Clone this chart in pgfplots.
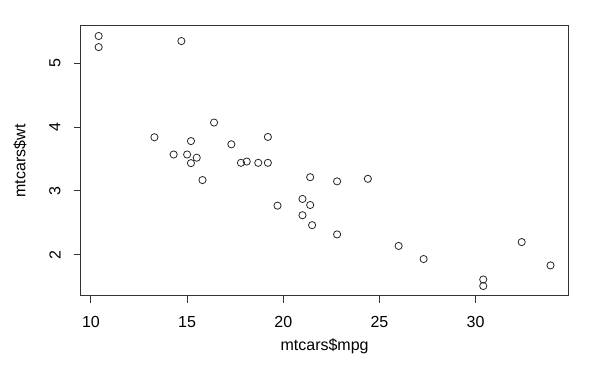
\documentclass[border=0pt]{standalone}
\usepackage{pgfplots}
\pgfplotsset{compat=1.18}
\usepackage{fontspec}
\setmainfont{Liberation Sans}
\begin{document}
\fontsize{12}{14}\selectfont
\begin{tikzpicture}
\useasboundingbox (0,0) rectangle (450pt,278.25pt);
\begin{axis}[
  at={(60.45pt,56.25pt)}, anchor=south west,
  scale only axis, width=366pt, height=202.5pt,
  xmin=9.46, xmax=34.84, ymin=1.3566, ymax=5.5804,
  xtick={10,15,20,25,30}, ytick={2,3,4,5},
  tick pos=left, tick align=outside,
  major tick length=5.25pt,
  axis line style={black!80, line width=0.75pt},
  every tick/.style={black!80, line width=0.75pt},
  /pgf/number format/assume math mode=true,
  ticklabel style={font=\fontsize{12}{14}\selectfont},
  xticklabel style={anchor=center, yshift=-14.25pt},
  yticklabel style={anchor=center, xshift=-14pt, rotate=90},
  xlabel={mtcars\$mpg}, ylabel={mtcars\$wt},
  xlabel style={at={(axis description cs:0.5,-0.1852)}, anchor=center, font=\fontsize{12}{14}\selectfont},
  ylabel style={at={(axis description cs:-0.1243,0.5)}, anchor=center, font=\fontsize{12}{14}\selectfont},
  clip=false,
]
\addplot[only marks, mark=o, mark size=2.7pt, black!85, mark options={line width=0.6pt}] coordinates {
(21.0,2.620) (21.0,2.875) (22.8,2.320) (21.4,3.215) (18.7,3.440)
(18.1,3.460) (14.3,3.570) (24.4,3.190) (22.8,3.150) (19.2,3.440)
(17.8,3.440) (16.4,4.070) (17.3,3.730) (15.2,3.780) (10.4,5.250)
(10.4,5.424) (14.7,5.345) (32.4,2.200) (30.4,1.615) (33.9,1.835)
(21.5,2.465) (15.5,3.520) (15.2,3.435) (13.3,3.840) (19.2,3.845)
(27.3,1.935) (26.0,2.140) (30.4,1.513) (15.8,3.170) (19.7,2.770)
(15.0,3.570) (21.4,2.780)
};
\end{axis}
\end{tikzpicture}
\end{document}
